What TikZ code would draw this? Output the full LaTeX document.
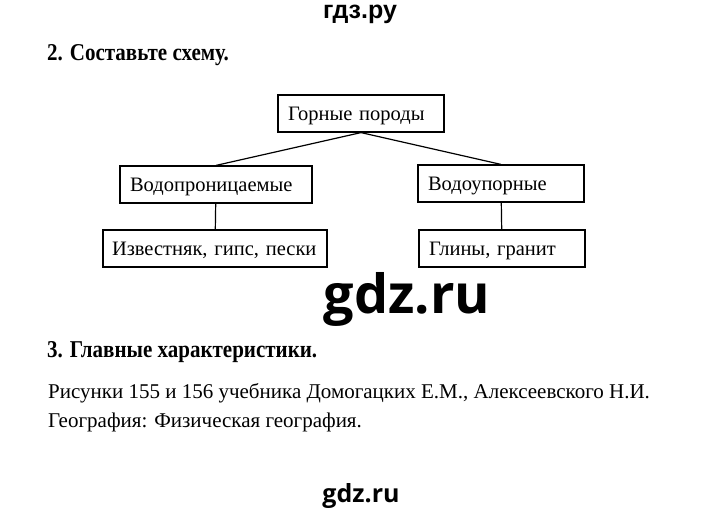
\documentclass[tikz,border=0pt]{standalone}
\usepackage{fontspec}
\setmainfont{Liberation Serif}
\newfontfamily\arialfont{Liberation Sans}
\newfontfamily\markfont{Open Sans}

\begin{document}
\begin{tikzpicture}[x=1pt,y=-1pt,
		rockbox/.style={draw,line width=1.2pt,minimum height=37pt,inner xsep=10pt,inner ysep=0pt,text height=17pt,text depth=3pt,align=left,font=\fontsize{20.5}{22}\selectfont},
		link/.style={line width=1.2pt},
		heading/.style={anchor=base west,inner sep=0pt,font=\bfseries\fontsize{21}{23}\selectfont},
		plain/.style={anchor=base west,inner sep=0pt,font=\fontsize{21}{23}\selectfont}]
		\useasboundingbox (0,0) rectangle (720,511);
		\fill[white] (0,0) rectangle (720,511);

		\node[anchor=base,inner sep=0pt,font=\arialfont\bfseries\fontsize{25}{27}\selectfont] (site) at (360,18.5) {гдз.ру};
		\node[heading] (task2) at (47,60) {\scalebox{1}[1.15]{2. Составьте схему.}};

		\node[rockbox,text width=146pt] (rocks) at (361,113.5) {Горные породы};
		\node[rockbox,text width=172pt] (perm) at (216,184.5) {Водопроницаемые};
		\node[rockbox,text width=146pt] (imperm) at (501,183.5) {Водоупорные};
		\node[rockbox,inner xsep=9pt,text width=206pt] (permex) at (215,248.5) {Известняк, гипс, пески};
		\node[rockbox,text width=146pt] (impermex) at (502,248.5) {Глины, гранит};

		\draw[link] (rocks.south) -- (perm.north);
		\draw[link] (rocks.south) -- (imperm.north);
		\draw[link] (perm) -- (permex);
		\draw[link] (imperm) -- (impermex);

		\node[anchor=base,font=\markfont\bfseries\fontsize{54}{56}\selectfont] (mark) at (407,313) {gdz.ru};

		\node[heading] (task3) at (47,357) {\scalebox{1}[1.15]{3. Главные характеристики.}};
		\node[plain] (line1) at (48,398) {Рисунки 155 и 156 учебника Домогацких Е.М., Алексеевского Н.И.};
		\node[plain] (line2) at (48,427) {География: Физическая география.};

		\node[anchor=base,font=\markfont\bfseries\fontsize{25}{27}\selectfont] (markb) at (361,502) {gdz.ru};
	\end{tikzpicture}
\end{document}
